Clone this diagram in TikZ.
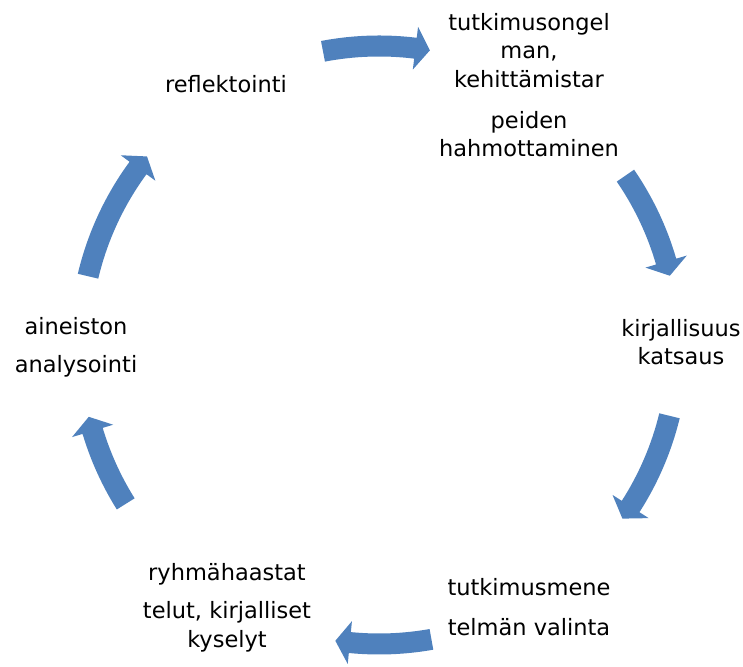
\documentclass[tikz,border=0pt]{standalone}
\usepackage{fontspec}
\setmainfont{DejaVu Sans}
\usepackage{tikz}
\definecolor{arrowblue}{RGB}{79,129,189}

\begin{document}
\begin{tikzpicture}[%
    x=1pt, y=1pt,
    phase/.style={font=\fontsize{22.5}{28.5}\selectfont, align=center, anchor=base, inner sep=0pt},
    cyclearrow/.style={fill=arrowblue, draw=none},
  ]
  \useasboundingbox (0,0) rectangle (743,666);

  % --- cycle arrows ---
  \begin{scope}[shift={(379,321)}]
    \def\R{299}
    \def\shaft{10.5}
    \def\head{21.5}
    \def\tiplen{2.8}
    \foreach \t/\h in {100.8/80.2, 34.5/13.4, -13.7/-35.5, -79.9/-98.4, -147.9/-166.1, 166.7/140.9}{
      \fill[cyclearrow] ({\t}:{\R+\shaft}) arc[start angle=\t, end angle=\h+\tiplen, radius=\R+\shaft]
        -- ({\h+\tiplen}:{\R+\head}) -- ({\h}:{\R}) -- ({\h+\tiplen}:{\R-\head})
        -- ({\h+\tiplen}:{\R-\shaft})
        arc[start angle=\h+\tiplen, end angle=\t, radius=\R-\shaft] -- cycle;
    }
  \end{scope}

  % --- phases ---
  \node[phase] (refl) at (226,573) {reflektointi};
  \node[phase] (problem) at (529,509) {tutkimusongel\\man,\\kehittämistar\\[12.5pt]peiden\\hahmottaminen};
  \node[phase] (lit) at (681,301) {kirjallisuus\\katsaus};
  \node[phase] (method) at (529,31) {tutkimusmene\\[11.5pt]telmän valinta};
  \node[phase] (data) at (227,19) {ryhmähaastat\\[9.5pt]telut, kirjalliset\\kyselyt};
  \node[phase] (analysis) at (76,293) {aineiston\\[9.5pt]analysointi};
\end{tikzpicture}
\end{document}
